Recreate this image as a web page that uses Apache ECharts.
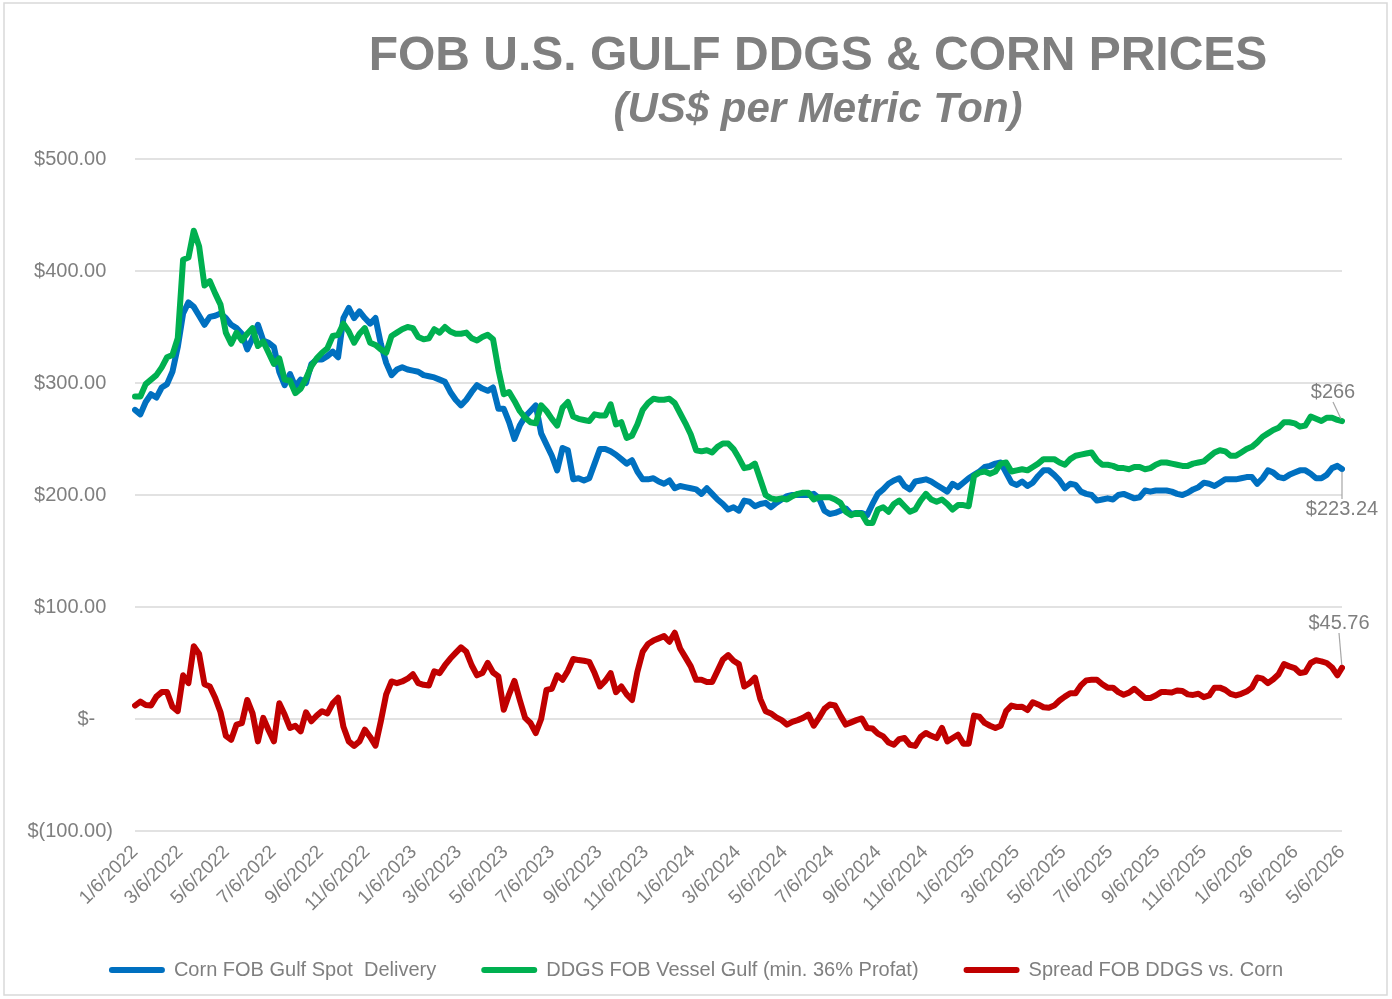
<!DOCTYPE html>
<html>
<head>
<meta charset="utf-8">
<style>
html,body{margin:0;padding:0;background:#fff;}
#chart{width:1392px;height:999px;}
</style>
<script src="https://cdn.jsdelivr.net/npm/echarts@6/dist/echarts.min.js"></script>
</head>
<body>
<div id="chart"></div>
<script>
const titleText = 'FOB U.S. GULF DDGS & CORN PRICES';
const subtitleText = '(US$ per Metric Ton)';
const seriesNames = ['Corn FOB Gulf Spot  Delivery', 'DDGS FOB Vessel Gulf (min. 36% Profat)', 'Spread FOB DDGS vs. Corn'];
const startDate = [2022, 0, 6];
const endDate = [2026, 4, 6];
const tickLabels = ['1/6/2022','3/6/2022','5/6/2022','7/6/2022','9/6/2022','11/6/2022','1/6/2023','3/6/2023','5/6/2023','7/6/2023','9/6/2023','11/6/2023','1/6/2024','3/6/2024','5/6/2024','7/6/2024','9/6/2024','11/6/2024','1/6/2025','3/6/2025','5/6/2025','7/6/2025','9/6/2025','11/6/2025','1/6/2026','3/6/2026','5/6/2026'];

const corn = [276,272,283,290,287,296,299,310,332,362,372,368,360,352,359,360,362,358,352,349,
344,330,340,352,338,336,332,310,298,308,297,303,300,317,321,321,324,328,323,358,
367,358,364,358,353,358,335,318,307,312,314,312,311,310,307,306,305,303,301,292,
285,280,285,292,298,295,293,296,277,277,265,250,262,270,275,280,255,245,235,222,
242,240,214,215,213,215,228,241,241,239,236,232,228,231,221,214,214,215,212,210,
213,206,208,207,206,205,201,206,201,196,192,187,189,186,195,194,190,192,193,189,
193,196,199,200,200,200,200,201,197,186,183,184,186,188,183,184,184,182,192,201,
205,210,213,215,208,205,212,213,214,212,209,206,203,210,207,211,215,218,221,225,
226,228,229,220,211,209,212,208,211,217,222,222,218,213,206,210,209,203,201,200,
195,196,197,196,200,201,199,197,198,204,203,204,204,204,203,201,200,202,205,207,
211,210,208,211,214,214,214,215,216,216,210,215,222,220,216,215,218,220,222,222,
219,215,215,218,224,226,223.24];

const ddgs = [288,288,299,303,307,314,323,325,340,410,412,436,422,387,391,380,370,345,335,345,
338,344,349,333,337,327,317,322,303,302,291,295,304,315,322,327,331,342,343,353,
346,336,344,349,336,334,330,327,342,345,348,350,349,341,339,340,348,345,350,346,
344,344,345,340,338,341,343,339,312,290,292,284,275,269,265,264,280,275,268,262,
278,283,270,268,267,266,272,271,271,281,263,265,251,253,263,276,282,286,285,285,
286,282,273,264,254,240,239,240,238,243,246,246,241,233,224,225,228,214,200,197,
196,197,196,199,201,202,202,196,198,198,198,196,193,185,182,184,183,175,175,187,
189,185,192,195,190,185,187,195,201,196,194,196,192,187,191,191,190,217,220,221,
219,221,228,229,221,222,223,222,225,228,232,232,232,229,227,232,235,236,237,238,
231,227,227,226,224,224,223,225,225,223,224,227,229,229,228,227,226,226,228,229,
230,234,238,240,239,235,235,238,241,243,247,252,255,258,260,265,265,264,261,262,
270,268,266,269,269,267,266];

const spread = [12,15.5,12.5,12,20,24,24,11,7,39,32,65,58,31,29,19,6,-15,-18.5,-5,
-3.6,17,5,-20,1,-10,-20,14,4,-8,-6,-11,6,-2,3,7,5,14,19,-7,
-20,-24,-20,-9.5,-16,-23.8,-2,22,33.5,32,33.5,36,40,32,30.5,30,42.6,41,48,54,
59,64,60,48,39,41,50,41.5,38,8.3,22,34,17,1,-3.6,-12.5,0,26,27,39,
35,43,53.6,52.6,52,51,41,29,34,41,24,29,22,17,42,60,67,70,72,74,
69,77,63,55,47,35,35,33,33,43,53,57,52,49,29,32,37,18,7,5,
1.5,-1,-5,-2.5,-1,1,3.9,-6,1,9,13,12,3,-5,-3,-1,0.5,-8,-8.5,-13,
-15.5,-21,-23,-18,-17,-23,-24,-16,-12.5,-15,-17,-8,-20,-17,-14,-22,-22,3,2,-3.5,
-6,-8,-6,7,12,10.7,11,8,15,13,10.5,10,12,16.5,20,23,23,30,34.5,35,
35,31,28,28,24,21.7,23.5,27,23,18.8,18.8,21,24,24,23.6,25.5,25,22,21.5,22.5,
19.5,21,28,28,26,22.5,21,22.5,24.5,28,37,36,32,35.5,40,49,47,45.5,41,42,
50,52.5,51.5,50,46,39,45.76];

const colors = ['#0070C0', '#00B050', '#C00000'];
const endLabelText = ['$223.24', '$266', '$45.76'];

// weekly dates, last point on the final axis date
const dates = [];
for (let i = 0; i < corn.length; i++) {
  const d = new Date(startDate[0], startDate[1], startDate[2] + 7 * i);
  dates.push(d.getTime());
}
dates[dates.length - 1] = new Date(endDate[0], endDate[1], endDate[2]).getTime();
const tickValues = tickLabels.map(s => { const p = s.split('/').map(Number); return new Date(p[2], p[0] - 1, p[1]).getTime(); });

const narrowOK = (() => {
  const ctx = document.createElement('canvas').getContext('2d');
  const s = 'Corn FOB Gulf Spot Delivery 0123456789';
  ctx.font = '24px monospace'; const a = ctx.measureText(s).width;
  ctx.font = '24px "Liberation Sans Narrow", monospace'; const b = ctx.measureText(s).width;
  return Math.abs(a - b) > 0.5;
})();
const FONT = narrowOK ? '"Liberation Sans Narrow", "Arial Narrow", sans-serif' : '"Liberation Sans", Arial, sans-serif';
const FS = narrowOK ? 24 : 20;
const TXT = '#7F7F7F';

const labelPos = [[1342, 509], [1333, 392], [1339, 623]];

function buildData(vals, si) {
  return vals.map((v, i) => {
    if (i === vals.length - 1) {
      return {
        value: [dates[i], v],
        symbol: 'circle', symbolSize: 5,
        label: { show: true, formatter: endLabelText[si] }
      };
    }
    return [dates[i], v];
  });
}

function makeSeries(name, vals, si) {
  return {
    name: name, type: 'line', data: buildData(vals, si),
    symbol: 'none', showSymbol: true,
    lineStyle: { color: colors[si], width: 6, join: 'round', cap: 'round' },
    itemStyle: { color: colors[si] },
    label: { show: false, color: TXT, fontFamily: FONT, fontSize: FS, position: 'top' },
    labelLine: { show: true, lineStyle: { color: '#A6A6A6', width: 1.2 } },
    labelLayout: function () {
      return { x: labelPos[si][0], y: labelPos[si][1], align: 'center', verticalAlign: 'middle' };
    },
    emphasis: { disabled: true },
    z: 2 + si
  };
}

function fmtY(v) {
  if (v === 0) return '$-{h|0)}';
  if (v < 0) return '$(' + Math.abs(v).toFixed(2) + ')';
  return '$' + v.toFixed(2) + '{h|)}';
}

const chart = echarts.init(document.getElementById('chart'), null, { renderer: 'canvas' });
chart.setOption({
  animation: false,
  backgroundColor: '#fff',
  title: {
    text: titleText, subtext: subtitleText,
    left: 813, top: 28, textAlign: 'center', itemGap: 8,
    textStyle: { fontFamily: '"Liberation Sans", Arial, sans-serif', fontWeight: 'bold', fontSize: 48, color: TXT },
    subtextStyle: { fontFamily: '"Liberation Sans", Arial, sans-serif', fontWeight: 'bold', fontStyle: 'italic', fontSize: 42, color: TXT }
  },
  graphic: [{
    type: 'rect', silent: true, z: -1,
    shape: { x: 4, y: 3, width: 1383, height: 992 },
    style: { fill: 'none', stroke: '#D9D9D9', lineWidth: 1.5 }
  }],
  legend: {
    bottom: 14, left: 'center',
    icon: 'path://M3,0 L53,0 A3,3 0 0 1 53,6 L3,6 A3,3 0 0 1 3,0 Z',
    itemWidth: 56, itemHeight: 7, itemGap: 45,
    textStyle: { fontFamily: FONT, fontSize: FS, color: TXT, padding: [0, 0, 0, 4] },
    data: seriesNames
  },
  grid: { left: 135, right: 50, top: 159, bottom: 168, containLabel: false },
  xAxis: {
    type: 'value',
    min: dates[0], max: dates[dates.length - 1],
    axisLine: { show: false }, axisTick: { show: false }, splitLine: { show: false },
    axisLabel: {
      customValues: tickValues,
      rotate: 45, margin: 18, fontFamily: FONT, fontSize: FS - 1, color: TXT,
      hideOverlap: false,
      formatter: function (v) { const d = new Date(v); return (d.getMonth() + 1) + '/' + d.getDate() + '/' + d.getFullYear(); }
    }
  },
  yAxis: {
    type: 'value', min: -100, max: 500, interval: 100,
    axisLine: { show: false }, axisTick: { show: false },
    splitLine: { show: true, lineStyle: { color: '#D9D9D9', width: 1.5 } },
    axisLabel: {
      margin: 22, fontFamily: FONT, fontSize: FS, color: TXT, formatter: fmtY,
      rich: { h: { color: 'rgba(0,0,0,0)', fontFamily: FONT, fontSize: FS } }
    }
  },
  series: [
    makeSeries(seriesNames[0], corn, 0),
    makeSeries(seriesNames[1], ddgs, 1),
    makeSeries(seriesNames[2], spread, 2)
  ]
});
</script>
</body>
</html>
